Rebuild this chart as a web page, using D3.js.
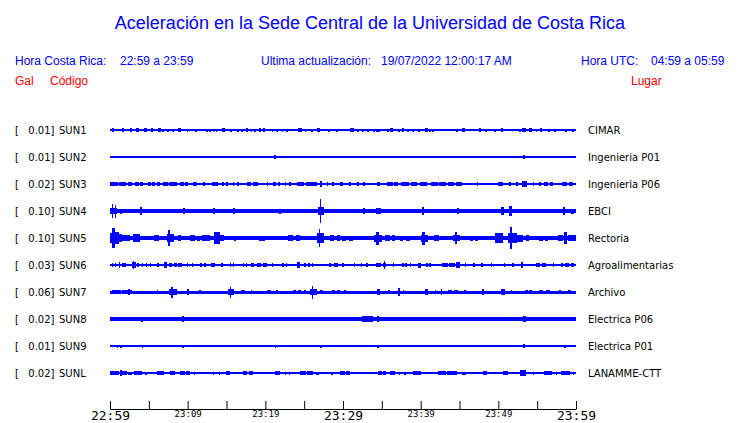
<!DOCTYPE html>
<html><head><meta charset="utf-8">
<script src="https://cdn.jsdelivr.net/npm/d3@7"></script>
<style>
html,body{margin:0;padding:0;background:#fff;}
svg{display:block;}
</style>
</head><body>
<svg id="chart" width="740" height="423"></svg>
<script>
// ---------- data ----------
const title = "Aceleración en la Sede Central de la Universidad de Costa Rica";
const headerLocal = ["Hora Costa Rica:", "22:59 a 23:59"];
const headerUpdate = ["Ultima actualización:", "19/07/2022 12:00:17 AM"];
const headerUTC = ["Hora UTC:", "04:59 a 05:59"];
const colHeaders = ["Gal", "Código", "Lugar"];

const codes  = ["SUN1","SUN2","SUN3","SUN4","SUN5","SUN6","SUN7","SUN8","SUN9","SUNL"];
const places = ["CIMAR","Ingenieria P01","Ingenieria P06","EBCI","Rectoria","Agroalimentarias","Archivo","Electrica P06","Electrica P01","LANAMME-CTT"];
const gains  = ["0.01","0.01","0.02","0.10","0.10","0.03","0.06","0.02","0.01","0.02"];

// background (quiet) amplitude of each trace, relative units
const baseAmp = [0.6,0.6,0.9,1.6,2.0,0.6,1.5,1.6,0.6,0.65];

// bursts: [start minute, end minute, amplitude] (minutes after 22:59)
const burstsSUN1 = [[0.3,0.5,1.7],[1.55,1.85,1.7],[2.6,2.8,1.7],[3.3,3.7,1.7],[4.4,4.8,1.7],[5.3,5.5,1.7],[6.2,6.6,1.7],[6.7,6.9,1.5],[7.4,7.6,1.5],[8.0,8.2,1.5],[8.7,9.1,1.7],[9.9,10.1,1.5],[11.0,11.2,1.5],[12.4,12.6,1.5],[12.8,13.0,1.5],[13.2,13.4,1.5],[13.6,13.8,1.5],[14.4,14.8,1.7],[15.5,15.7,1.5],[16.4,16.6,1.5],[16.9,17.1,1.5],[17.45,17.75,1.7],[18.1,18.3,1.5],[18.6,18.8,1.5],[19.15,19.45,1.7],[19.65,19.95,1.7],[20.8,21.0,1.5],[21.4,21.6,1.5],[22.1,22.3,1.5],[22.7,22.9,1.5],[24.25,24.75,1.7],[25.1,25.3,1.5],[25.9,26.1,1.5],[26.6,27.0,1.7],[28.1,28.3,1.5],[29.1,29.3,1.5],[30.95,31.45,1.7],[31.8,32.0,1.5],[32.5,32.7,1.5],[33.1,33.3,1.5],[33.9,34.1,1.5],[34.3,34.5,1.5],[34.55,34.7,1.5],[35.7,35.9,1.5],[36.1,36.5,1.7],[37.1,37.3,1.5],[37.55,37.85,1.7],[38.3,38.5,1.5],[38.9,39.1,1.5],[39.7,39.9,1.5],[40.5,40.9,1.7],[41.1,41.3,1.5],[41.5,41.7,1.5],[44.6,44.8,1.5],[45.3,45.7,1.7],[47.45,47.75,1.7],[48.3,48.5,1.5],[49.5,49.7,1.5],[50.35,50.65,1.7],[52.7,52.9,1.5],[53.1,53.5,1.7],[53.9,54.3,1.7],[54.8,55.0,1.5],[55.35,55.65,1.7],[56.4,56.6,1.5],[57.2,57.4,1.5],[58.6,58.8,1.5],[59.5,59.7,1.5]];
const burstsSUN2 = [[21.15,21.35,1.7],[53.2,53.4,1.7]];
const burstsSUN3 = [[0,1.0,1.8],[1.15,2.06,1.8],[2.3,2.8,1.8],[3.2,3.7,1.8],[3.85,4.3,1.8],[4.9,5.3,1.8],[5.45,5.8,1.8],[6.0,6.4,1.8],[6.8,7.5,1.8],[7.65,8.6,1.8],[9.0,9.5,1.8],[9.65,10.0,1.8],[10.7,11.2,1.8],[12.0,12.2,1.8],[13.1,13.9,1.8],[14.4,14.7,1.8],[14.9,15.2,1.8],[15.8,16.0,1.8],[16.4,16.6,1.8],[17.6,18.2,1.8],[18.4,19.1,1.8],[20.2,20.4,1.8],[21.0,21.4,1.8],[21.6,21.9,1.8],[22.5,22.7,1.8],[23.1,23.3,1.8],[24.1,25.0,1.8],[25.2,26.7,1.8],[27.1,27.3,3],[27.9,28.1,1.8],[28.6,28.8,1.8],[29.6,30.0,1.8],[30.8,31.0,1.8],[31.8,32.0,1.8],[32.6,32.8,1.8],[34.4,34.8,1.8],[35.7,36.4,1.8],[36.6,37.1,1.8],[37.5,38.5,1.8],[38.7,39.5,1.8],[39.9,40.8,1.8],[41.3,42.2,1.8],[42.4,43.3,1.8],[43.5,44.3,1.8],[44.5,45.3,1.8],[47.2,47.4,1.8],[49.9,50.6,1.8],[51.4,51.6,1.8],[52.3,52.5,1.8],[53.0,53.7,3],[54.4,54.6,1.8],[55.3,55.5,1.8],[55.9,56.4,1.8],[56.6,57.0,1.8],[58.2,58.9,1.8],[59.1,59.6,1.8]];
const burstsSUN4 = [[0,0.9,3],[0.25,0.4,7],[0.65,0.8,6.5],[1.35,1.5,2.5],[3.9,4.1,4],[7.3,7.9,2.3],[9.45,9.6,3],[13.3,13.5,3],[15.9,16.1,3],[19.2,19.4,2.2],[21.8,22.0,2.5],[24.0,24.6,2],[25.0,26.0,2],[26.8,27.5,4],[27.05,27.2,12],[28.3,29.6,2.3],[29.6,30.5,2],[31.5,32.0,2],[32.6,32.8,3],[34.3,34.9,3.2],[40.2,40.4,4],[42.9,43.1,2.3],[44.7,44.9,3],[50.3,50.7,4],[51.4,51.7,5],[52.5,53.5,2.2],[58.3,58.6,4],[59.4,59.7,2.5]];
const burstsSUN5 = [[0,0.3,5],[0.3,0.7,10],[0.7,1.1,6],[1.1,1.6,4],[1.6,2.6,3],[2.9,3.9,4],[5.7,6.3,3],[7.3,8.2,4],[7.5,7.7,8],[8.8,9.2,3],[10.3,10.9,3],[11.2,11.6,2.5],[11.9,12.9,3],[13.4,14.2,6],[14.2,14.7,3],[16.0,16.2,2.5],[19.2,20.0,2.5],[22.9,23.6,3],[23.9,24.5,3],[26.6,27.6,5],[26.85,27.05,9],[28.3,28.9,3],[29.2,29.6,3],[29.9,30.4,2.5],[30.8,31.3,2.5],[34.0,35.0,3.5],[34.3,34.6,6.5],[35.4,36.0,3],[36.3,36.7,3],[37.3,37.7,2.5],[38.1,38.6,2.5],[40.0,41.0,3.5],[40.2,40.5,6.5],[41.7,42.3,3],[44.2,45.0,3],[44.4,44.7,6],[46.3,46.7,2.5],[47.0,47.4,2.5],[49.6,50.6,5],[51.2,52.4,5],[51.55,51.75,11],[52.4,53.2,3.5],[53.5,54.0,3],[55.3,55.7,2.5],[56.0,56.4,2.5],[57.7,58.3,3],[58.5,58.8,6],[59.0,60,3]];
const burstsSUN6 = [[0.2,0.4,2],[0.6,0.8,2],[1.1,1.3,3],[1.6,2.1,2],[2.8,3.3,3],[3.0,3.1,4],[3.5,3.7,2],[4.1,4.3,2],[4.6,4.8,2],[5.1,5.3,2],[6.1,6.3,2],[7.0,7.3,3],[7.6,8.0,2],[8.2,8.6,2],[8.8,9.3,2],[9.9,10.1,2],[10.5,10.7,2],[11.6,11.8,2],[12.1,12.3,2],[13.0,13.5,2],[14.3,14.5,2],[15.4,15.6,2],[15.8,16.0,2],[17.1,17.3,2],[17.5,17.7,2],[18.2,18.6,2],[18.9,19.4,2],[19.7,20.2,2],[20.8,21.0,2],[22.2,22.4,2],[22.6,22.8,2],[24.1,24.4,3],[25.0,25.2,2],[25.5,25.7,2],[26.0,26.2,2],[28.2,28.4,2],[28.8,29.4,2],[29.9,30.1,2],[31.4,31.6,2],[32.3,32.5,2],[33.0,33.2,2],[34.3,34.9,2],[35.1,35.6,2],[35.3,35.45,4],[36.4,36.6,2],[37.6,37.8,2],[38.0,38.2,2],[38.6,38.8,2],[39.6,40.0,2.5],[40.7,40.9,2],[41.1,41.3,2],[42.7,43.5,2],[43.7,44.4,2],[44.6,45.0,3],[45.7,45.9,2],[46.8,47.0,2],[47.8,48.0,2],[49.0,49.2,2],[50.7,50.9,2],[51.8,52.0,2],[52.9,53.2,3],[54.8,55.4,2],[55.6,56.2,2],[57.0,57.2,2],[58.1,58.3,2],[58.6,59.1,2],[59.3,59.7,2]];
const burstsSUN7 = [[0.2,1.4,2],[1.6,2.8,2],[2.3,2.6,3],[6.0,6.2,2],[7.6,8.6,3],[7.9,8.1,5.5],[9.9,10.2,3],[11.5,11.7,2.2],[15.2,16.0,3],[15.4,15.6,5.5],[16.9,17.4,2.2],[18.1,18.3,2],[20.2,20.7,2.2],[21.4,21.6,2],[23.6,24.0,2.2],[24.2,24.6,2.2],[25.0,25.2,2.2],[25.7,26.6,3],[26.0,26.2,6.5],[27.1,27.4,2],[28.6,29.0,2],[29.2,29.6,2],[30.1,30.4,2.2],[34.4,34.7,3],[35.8,36.0,2],[37.1,37.3,4],[37.7,37.9,2],[40.6,40.9,3],[41.8,42.0,2],[42.6,42.8,3],[43.5,44.0,2],[44.3,44.8,2],[45.6,45.8,2],[47.9,48.1,3],[50.3,50.8,3],[51.6,51.8,2.2],[53.4,53.8,2],[54.0,54.3,2],[55.3,55.8,2.2],[56.1,56.6,2.2],[57.8,58.1,2.2],[59.0,59.3,2]];
const burstsSUN8 = [[0,0.9,2.2],[4.0,4.3,2.5],[9.3,9.5,3],[18.2,18.4,2.2],[21.2,21.8,2.2],[22.1,22.8,2.2],[24.0,24.2,2],[24.8,25.4,2.2],[25.9,26.1,2],[26.7,27.4,2.2],[28.4,28.6,2],[31.0,31.2,2],[32.4,33.9,3],[34.4,34.6,3],[35.0,35.2,2],[42.8,43.0,2],[44.6,45.3,2.2],[45.6,46.2,2.2],[47.3,47.5,2],[50.8,51.0,2],[53.2,53.5,3.2],[54.2,54.4,2],[58.5,58.7,2]];
const burstsSUN9 = [[0.9,1.05,1.5],[1.35,1.5,1.5],[4.1,4.3,1.5],[9.3,9.5,1.5],[21.2,21.4,1.5],[27.1,27.3,1.5],[34.4,34.6,1.5],[35.1,35.3,1.2],[53.2,53.45,2],[58.5,58.7,1.5]];
const burstsSUNL = [[0,1.2,1.8],[1.4,2.2,1.8],[1.35,1.5,3],[2.3,2.8,1.5],[3.1,4.1,1.8],[4.5,4.7,1.5],[6.0,6.9,1.8],[7.7,8.4,1.8],[9.0,9.6,1.8],[9.8,10.3,1.8],[10.8,11.0,1.5],[13.2,13.4,1.5],[14.0,14.2,1.5],[14.9,15.5,1.8],[17.1,17.7,1.8],[17.9,18.4,1.8],[21.2,21.9,1.8],[22.5,22.7,1.5],[23.0,23.2,1.5],[24.4,25.2,1.8],[25.4,26.2,1.8],[26.5,26.9,1.5],[28.5,28.7,1.5],[29.6,30.2,1.8],[30.4,30.9,1.8],[32.3,32.5,1.2],[34.5,35.0,1.8],[35.2,35.6,1.8],[36.0,36.7,1.8],[37.2,37.4,1.5],[37.9,38.1,1.5],[39.0,40.1,1.8],[42.2,43.2,1.8],[43.4,44.7,1.8],[45.3,45.8,1.5],[48.0,48.6,1.8],[50.6,51.2,1.8],[52.8,53.5,2.8],[54.4,54.6,1.5],[55.9,56.9,1.8],[57.4,57.6,1.5],[58.1,59.2,1.8],[59.6,59.8,1.5]];

const bursts = [burstsSUN1,burstsSUN2,burstsSUN3,burstsSUN4,burstsSUN5,burstsSUN6,burstsSUN7,burstsSUN8,burstsSUN9,burstsSUNL];

const startTime = new Date(2022, 6, 18, 22, 59);
const endTime   = new Date(2022, 6, 18, 23, 59);
const spanMinutes = 60;

// ---------- drawing ----------
const svg = d3.select("#chart");
const BLUE = "#0000ff", RED = "#ff0000";
const headFont = "'Liberation Sans', Arial, Helvetica, sans-serif";
const labFont = "'DejaVu Sans', sans-serif";
const monoFont = "'DejaVu Sans Mono', monospace";

svg.append("text").attr("x", 370).attr("y", 29).attr("text-anchor","middle")
  .attr("font-family", headFont).attr("font-size", 18).attr("fill", BLUE).text(title);

const h1 = svg.append("g").attr("font-family", headFont).attr("font-size", 12).attr("fill", BLUE);
[[15, headerLocal[0]],[120, headerLocal[1]],[261, headerUpdate[0]],[381, headerUpdate[1]],[581, headerUTC[0]],[651, headerUTC[1]]]
  .forEach(([x,t]) => h1.append("text").attr("x", x).attr("y", 65).text(t));

const h2 = svg.append("g").attr("font-family", headFont).attr("font-size", 12).attr("fill", RED);
[[15, colHeaders[0]],[50, colHeaders[1]],[631, colHeaders[2]]]
  .forEach(([x,t]) => h2.append("text").attr("x", x).attr("y", 85).text(t));

const x = d3.scaleLinear().domain([0, spanMinutes]).range([110, 576]);
const xt = d3.scaleTime().domain([startTime, endTime]).range([110, 576]);
const y = d3.scalePoint().domain(codes).range([130, 373]);
const amp = d3.scaleLinear().domain([0, 1]).range([0, 1]);

const rows = svg.append("g").selectAll("g.row").data(codes).join("g")
  .attr("class","row").attr("transform", d => `translate(0,${y(d)})`);

rows.append("text").attr("x", 15).attr("y", 4).attr("font-family", labFont).attr("font-size", 10).text("[");
rows.append("text").attr("x", 54.5).attr("y", 4).attr("text-anchor","end").attr("font-family", labFont).attr("font-size", 10)
  .text((d,i) => gains[i] + "]");
rows.append("text").attr("x", 59).attr("y", 4).attr("font-family", labFont).attr("font-size", 10).text(d => d);
rows.append("text").attr("x", 588).attr("y", 4).attr("font-family", labFont).attr("font-size", 10)
  .text((d,i) => places[i]);

const traces = rows.append("g").attr("fill", BLUE).attr("shape-rendering","crispEdges");
traces.append("rect")
  .attr("x", x(0)).attr("width", x(spanMinutes) - x(0))
  .attr("y", (d,i) => -amp(baseAmp[i])).attr("height", (d,i) => 2*amp(baseAmp[i]));
traces.each(function(d,i){
  d3.select(this).selectAll("rect.b").data(bursts[i]).join("rect").attr("class","b")
    .attr("x", b => x(b[0]))
    .attr("width", b => Math.max(1, x(b[1]) - x(b[0])))
    .attr("y", b => -amp(b[2]))
    .attr("height", b => 2*amp(b[2]));
});

// time axis
const tickVals = d3.range(0, 61, 5).map(m => new Date(startTime.getTime() + m*60000));
const fmt = d3.timeFormat("%H:%M");
const axis = d3.axisBottom(xt).tickValues(tickVals).tickSize(-8).tickSizeOuter(0).tickPadding(2)
  .tickFormat((d,i) => (i % 2 === 0) ? fmt(d) : "");
const ax = svg.append("g").attr("transform","translate(0,409)").call(axis);
ax.selectAll("text").attr("font-family", monoFont).attr("fill","#000")
  .attr("font-size", (d,i) => (i % 6 === 0) ? 13 : 9);
ax.selectAll("line, path").attr("stroke","#000");
</script>
</body></html>
